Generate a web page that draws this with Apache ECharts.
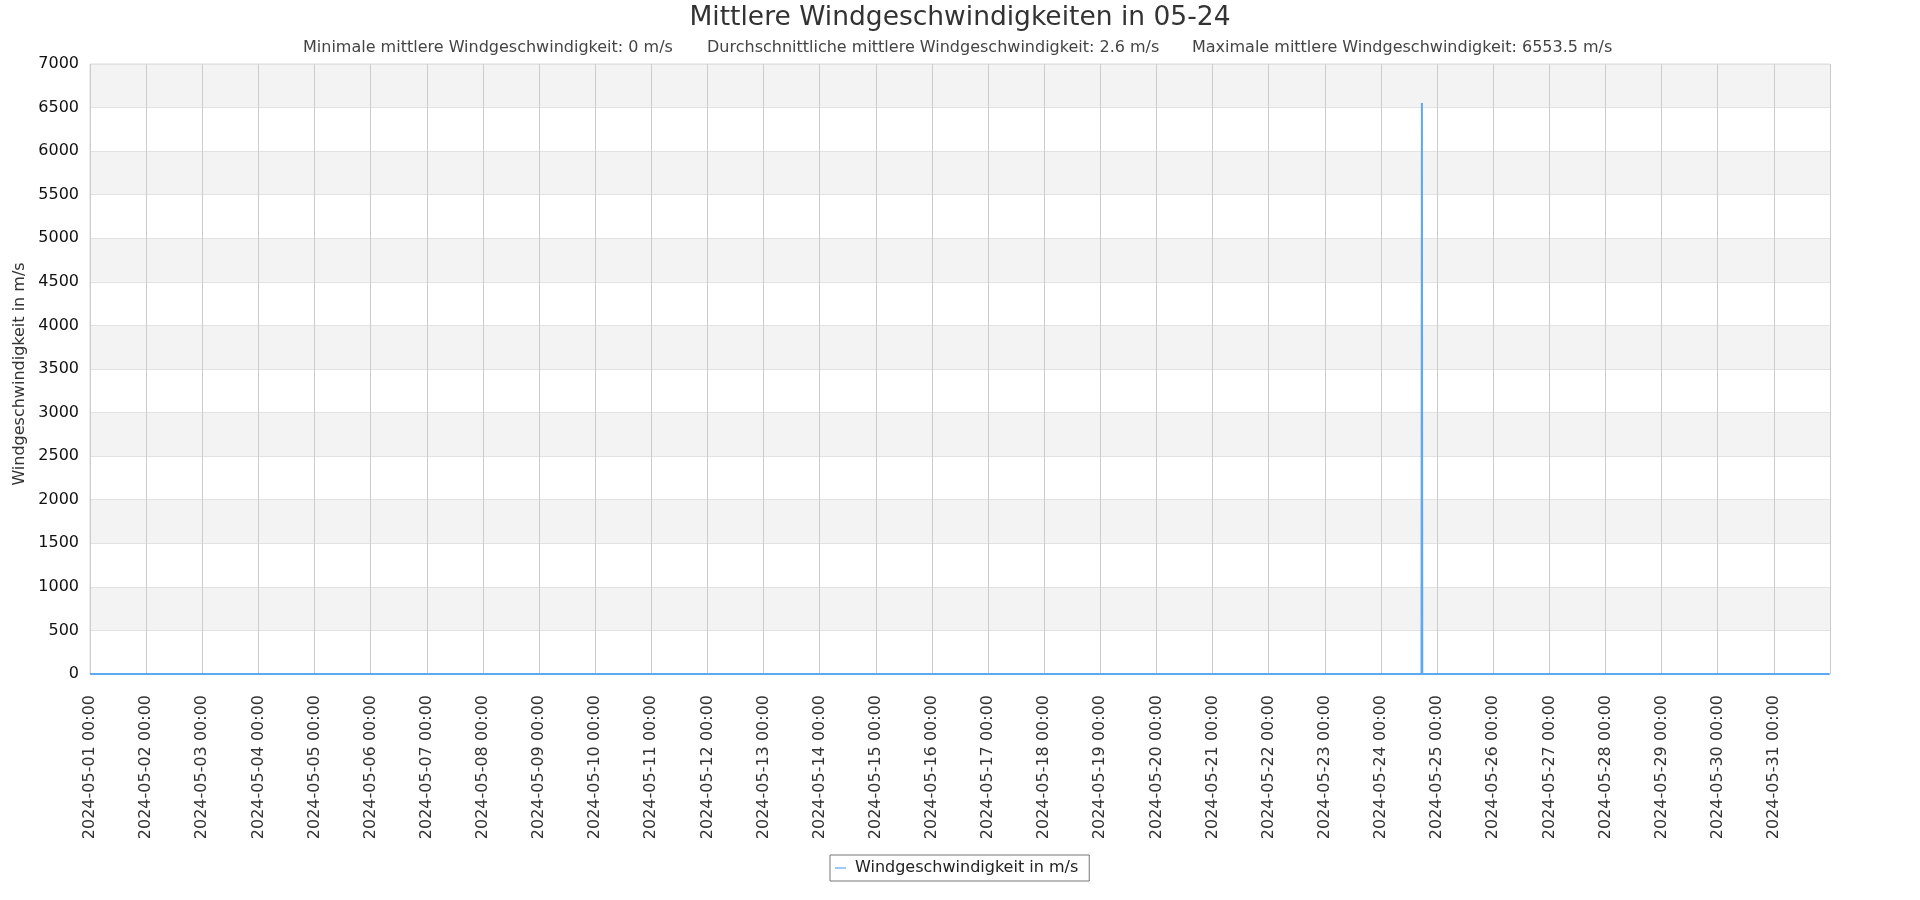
<!DOCTYPE html>
<html>
<head>
<meta charset="utf-8">
<script src="https://cdn.jsdelivr.net/npm/echarts@6/dist/echarts.min.js"></script>
<style>
  html, body { margin: 0; padding: 0; background: #fff; }
  #chart { width: 1920px; height: 900px; }
</style>
</head>
<body>
<div id="chart"></div>
<script>
// ---- data ----
const chartTitle = 'Mittlere Windgeschwindigkeiten in 05-24';
const seriesName = 'Windgeschwindigkeit in m/s';
const statLabels = ['Minimale mittlere Windgeschwindigkeit', 'Durchschnittliche mittlere Windgeschwindigkeit', 'Maximale mittlere Windgeschwindigkeit'];
const statValues = [0, 2.6, 6553.5];
const times = ['2024-05-01 00:00', '2024-05-24 17:20', '2024-05-24 17:30', '2024-05-24 17:40', '2024-05-31 23:50'];
const speeds = [0, 0, 6553.5, 0, 0];
const xStart = '2024-05-01 00:00';
const xEnd = '2024-06-01 00:00';
const yMin = 0, yMax = 7000, yStep = 500;

// ---- helpers ----
function parseUTC(s) {
  const [d, t] = s.split(' ');
  const [Y, M, D] = d.split('-').map(Number);
  const [h, m] = t.split(':').map(Number);
  return Date.UTC(Y, M - 1, D, h, m);
}
const pad = n => String(n).padStart(2, '0');
const DAY = 86400000;
const xMin = parseUTC(xStart);
const xMax = parseUTC(xEnd);
const font = 'DejaVu Sans';

const data = times.map((t, i) => [parseUTC(t), speeds[i]]);
const subLeft = [303, 707, 1192];

const titles = [{
  text: chartTitle, left: 'center', top: 5, padding: 0,
  textStyle: { fontFamily: font, fontSize: 26.5, fontWeight: 'normal', color: '#333' }
}].concat(statLabels.map((l, i) => ({
  text: l + ': ' + statValues[i] + ' m/s', left: subLeft[i], top: 40, padding: 0,
  textStyle: { fontFamily: font, fontSize: 16, fontWeight: 'normal', color: '#444' }
})));

const chart = echarts.init(document.getElementById('chart'));
chart.setOption({
  animation: false,
  backgroundColor: '#fff',
  title: titles,
  legend: {
    data: [seriesName],
    left: 830,
    top: 855,
    padding: [5, 11, 5, 5],
    borderColor: '#777',
    borderWidth: 1,
    borderRadius: 0,
    itemWidth: 11,
    itemHeight: 2,
    icon: 'rect',
    itemStyle: { color: '#9ec9f5' },
    textStyle: { fontFamily: font, fontSize: 16, color: '#222', padding: [0, 0, 0, 4] }
  },
  grid: {
    left: 90, right: 90, top: 64, bottom: 226,
    show: true, borderColor: '#ddd', borderWidth: 1, backgroundColor: 'transparent'
  },
  xAxis: {
    type: 'value',
    min: xMin, max: xMax, interval: DAY,
    axisLine: { show: false },
    axisTick: { show: false },
    axisLabel: {
      rotate: 90, fontFamily: font, fontSize: 16, color: '#333', margin: 21,
      showMaxLabel: false,
      formatter: v => {
        if (v >= xMax) return '';
        const d = new Date(v);
        return d.getUTCFullYear() + '-' + pad(d.getUTCMonth() + 1) + '-' + pad(d.getUTCDate()) + ' ' + pad(d.getUTCHours()) + ':' + pad(d.getUTCMinutes());
      }
    },
    splitLine: { show: true, lineStyle: { color: '#cccccc', width: 1 } }
  },
  yAxis: {
    type: 'value',
    min: yMin, max: yMax, interval: yStep,
    name: seriesName,
    nameLocation: 'middle',
    nameGap: 55,
    nameTextStyle: { fontFamily: font, fontSize: 16, color: '#333', padding: [0, 10, 0, 0] },
    axisLine: { show: false },
    axisTick: { show: false },
    axisLabel: { fontFamily: font, fontSize: 16, color: '#111', margin: 11, formatter: v => String(v) },
    splitLine: { show: true, lineStyle: { color: '#e2e2e2', width: 1 } },
    splitArea: { show: true, areaStyle: { color: ['#ffffff', '#f3f3f3'] } }
  },
  series: [{
    name: seriesName,
    type: 'line',
    data: data,
    showSymbol: false,
    symbol: 'none',
    lineStyle: { color: '#5ea8f2', width: 2 },
    itemStyle: { color: '#5ea8f2' }
  }]
});
</script>
</body>
</html>
